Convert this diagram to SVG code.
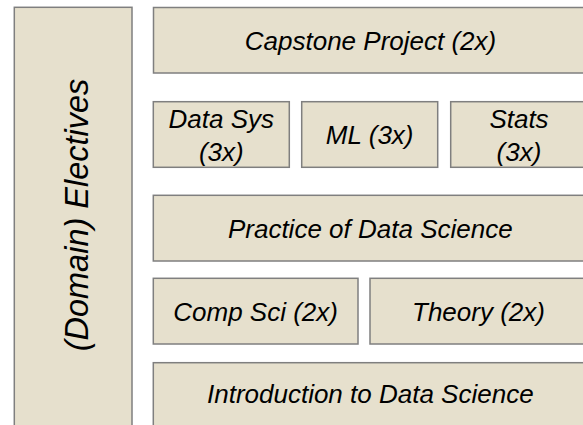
<svg xmlns="http://www.w3.org/2000/svg" width="583" height="425" viewBox="0 0 583 425">
<style>
.box{fill:#E6E0CD;stroke:#7F7F7F;stroke-width:1.5}
.t{font-family:"Liberation Sans",Arial,sans-serif;font-style:italic;font-size:26px;fill:#000;text-anchor:middle}
</style>
<rect width="583" height="425" fill="#FFFFFF"/>
<g id="electives">
<rect class="box" x="14.3" y="7.3" width="117.7" height="440"/>
<text class="t" transform="translate(87.5,215) rotate(-90)" style="font-size:32.5px">(Domain) Electives</text>
</g>
<g id="capstone">
<rect class="box" x="153.5" y="7.5" width="434" height="65.5"/>
<text class="t" x="370.5" y="49.8">Capstone Project (2x)</text>
</g>
<g id="datasys">
<rect class="box" x="153.3" y="101.7" width="136" height="65.6"/>
<text class="t" x="221.3" y="128.3">Data Sys</text>
<text class="t" x="221.3" y="161">(3x)</text>
</g>
<g id="ml">
<rect class="box" x="301.7" y="101.7" width="136" height="65.6"/>
<text class="t" x="369.7" y="143.8">ML (3x)</text>
</g>
<g id="stats">
<rect class="box" x="450.7" y="101.7" width="136" height="65.6"/>
<text class="t" x="519" y="128.3">Stats</text>
<text class="t" x="519" y="161">(3x)</text>
</g>
<g id="practice">
<rect class="box" x="153.3" y="195.3" width="434" height="65.7"/>
<text class="t" x="370.3" y="237.8">Practice of Data Science</text>
</g>
<g id="compsci">
<rect class="box" x="153.3" y="278.3" width="204.7" height="65.7"/>
<text class="t" x="255.6" y="320.5">Comp Sci (2x)</text>
</g>
<g id="theory">
<rect class="box" x="370" y="278.3" width="217" height="65.7"/>
<text class="t" x="478.5" y="320.5">Theory (2x)</text>
</g>
<g id="intro">
<rect class="box" x="153.3" y="362.7" width="434" height="80"/>
<text class="t" x="370.3" y="403.3">Introduction to Data Science</text>
</g>
<g id="connectors"/>
</svg>
